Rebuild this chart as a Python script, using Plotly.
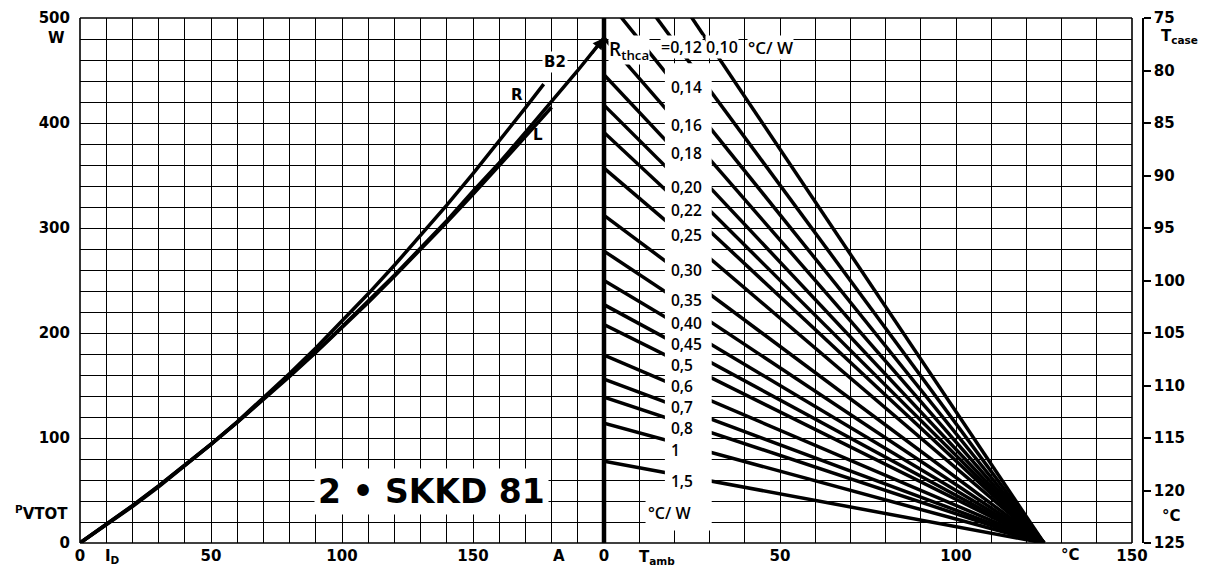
import plotly.graph_objects as go

# ---------------- data ----------------
# left panel: total power dissipation P_VTOT [W] vs. current I_D [A]
i_b2 = [0, 10, 20, 30, 40, 50, 60, 70, 80, 90, 100, 110, 120, 130, 140, 150, 160, 170, 180, 190, 200]
p_b2 = [0, 17.5, 35.6, 54.4, 74, 94.2, 115, 137, 159, 182, 206, 230, 255, 281, 307, 335, 362, 391, 420, 450, 481]
i_r = [0, 10, 20, 30, 40, 50, 60, 70, 80, 90, 100, 110, 120, 130, 140, 150, 160, 170, 177]
p_r = [0, 16.9, 34.7, 53.5, 73.2, 93.9, 115.5, 138, 161.4, 185.8, 211.1, 237.3, 264.5, 292.6, 321.7, 351.7, 382.6, 414.4, 437]
i_l = [0, 10, 20, 30, 40, 50, 60, 70, 80, 90, 100, 110, 120, 130, 140, 150, 160, 170, 180]
p_l = [0, 17.4, 35.4, 54.2, 73.8, 94, 114.8, 136.4, 158.6, 181.5, 205, 229, 254, 279.5, 305.5, 332, 359, 387, 415]

# right panel: R_thca lines, P at T_amb = 0 and common zero-power temperature
rth_labels = ["0,10", "0,12", "0,14", "0,16", "0,18", "0,20", "0,22", "0,25", "0,30",
              "0,35", "0,40", "0,45", "0,5", "0,6", "0,7", "0,8", "1", "1,5"]
p_at_t0 = [625, 568, 521, 481, 446, 417, 391, 357, 312, 278, 250, 227, 208, 179, 156, 139, 114, 78]
t_zero_power = 125

x1_ticks = [0, 50, 100, 150]
x2_ticks = [0, 50, 100, 150]
y_ticks = [0, 100, 200, 300, 400, 500]
tcase_ticks = [75, 80, 85, 90, 95, 100, 105, 110, 115, 120, 125]

# ---------------- layout helpers ----------------
# the page adds an 8 px body margin, so the figure is 8 px smaller
W, H = 1200, 562
ML, MR, MT, MB = 72, 65, 10, 27
PW = W - ML - MR
D1 = 524 / PW          # divider position (paper)
D2 = 1052 / PW         # right border of plot area (paper)

FONT = "DejaVu Sans"
LFONT = "Open Sans"
BLACK = "black"

fig = go.Figure()

for xs, ys in [(i_b2, p_b2), (i_r, p_r), (i_l, p_l)]:
    fig.add_trace(go.Scatter(x=xs, y=ys, mode="lines", xaxis="x", yaxis="y",
                             line=dict(color=BLACK, width=3.5), showlegend=False,
                             hoverinfo="skip"))

for p0 in p_at_t0:
    fig.add_trace(go.Scatter(x=[0, t_zero_power], y=[p0, 0], mode="lines", xaxis="x2", yaxis="y",
                             line=dict(color=BLACK, width=3.5), showlegend=False,
                             hoverinfo="skip"))

# dummy trace to materialise the T_case axis
fig.add_trace(go.Scatter(x=[None], y=[None], xaxis="x2", yaxis="y3", showlegend=False))

grid = dict(showgrid=True, gridcolor=BLACK, gridwidth=1.4, zeroline=False, ticks="",
            showline=False, automargin=False,
            tickfont=dict(family=FONT, size=15, color=BLACK, weight="bold"))

fig.update_layout(
    width=W, height=H, template="none",
    margin=dict(l=ML, r=MR, t=MT, b=MB),
    paper_bgcolor="white", plot_bgcolor="white", showlegend=False,
    xaxis=dict(domain=[0, D1], range=[0, 200], anchor="y", tickvals=x1_ticks,
               minor=dict(dtick=10, showgrid=True, gridcolor=BLACK, gridwidth=1.4, ticks=""),
               ticklabelstandoff=2, **grid),
    xaxis2=dict(domain=[D1, D2], range=[0, 150], anchor="y", tickvals=x2_ticks,
                minor=dict(dtick=10, showgrid=True, gridcolor=BLACK, gridwidth=1.4, ticks=""),
                ticklabelstandoff=2, **grid),
    yaxis=dict(domain=[0, 1], range=[0, 500], anchor="x", tickvals=y_ticks,
               minor=dict(dtick=20, showgrid=True, gridcolor=BLACK, gridwidth=1.4, ticks=""),
               ticklabelstandoff=9, **grid),
    yaxis3=dict(overlaying="y", anchor="free", position=1.0, side="right",
                range=[125, 75], tickvals=tcase_ticks, showgrid=False, zeroline=False,
                showline=True, linecolor=BLACK, linewidth=1.5,
                ticks="outside", ticklen=7, tickwidth=1.5, tickcolor=BLACK,
                automargin=False,
                tickfont=dict(family=FONT, size=15, color=BLACK, weight="bold")),
)

shapes = []
# white gaps for label column in the right panel
shapes.append(dict(type="rect", xref="x2", yref="y", x0=17.3, x1=30.6, y0=12, y1=457,
                   fillcolor="white", line=dict(width=0), layer="above"))
shapes.append(dict(type="rect", xref="x2", yref="y", x0=11.8, x1=17.4, y0=12, y1=50,
                   fillcolor="white", line=dict(width=0), layer="above"))
# frame
shapes.append(dict(type="line", xref="paper", yref="paper", x0=0, x1=D2, y0=1, y1=1,
                   line=dict(color=BLACK, width=1.6), layer="above"))
shapes.append(dict(type="line", xref="paper", yref="paper", x0=0, x1=D2, y0=0, y1=0,
                   line=dict(color=BLACK, width=1.6), layer="above"))
shapes.append(dict(type="line", xref="paper", yref="paper", x0=0, x1=0, y0=0, y1=1,
                   line=dict(color=BLACK, width=1.6), layer="above"))
shapes.append(dict(type="line", xref="paper", yref="paper", x0=D2, x1=D2, y0=0, y1=1,
                   line=dict(color=BLACK, width=1.6), layer="above"))
shapes.append(dict(type="line", xref="paper", yref="paper", x0=D1, x1=D1, y0=0, y1=1,
                   line=dict(color=BLACK, width=4.5), layer="above"))
fig.update_layout(shapes=shapes)

ann = []
def add(text, x, y, xref, yref, xanchor="center", yanchor="middle", size=15, weight="normal",
        bg=None, pad=1, family=FONT):
    d = dict(text=text, x=x, y=y, xref=xref, yref=yref, xanchor=xanchor, yanchor=yanchor,
             showarrow=False, font=dict(family=family, size=size, color=BLACK, weight=weight),
             borderpad=pad)
    if bg:
        d["bgcolor"] = bg
    ann.append(d)

# R_thca label column (positions)
label_p = [None, None, 434, 398, 371, 339, 317, 293, 260, 231, 210, 190, 170, 150, 130, 110, 89, 59]
for lab, py in zip(rth_labels, label_p):
    if py is not None:
        add(lab, 18.7, py, "x2", "y", xanchor="left", size=15.5, weight=600, family=LFONT, pad=0)
add("°C/ W", 12.3, 29, "x2", "y", xanchor="left", size=16, weight=600, family=LFONT, pad=0)

# top row
add("R<sub>thca</sub>", 1.0, 470, "x2", "y", xanchor="left", size=19, weight=600, family=LFONT,
    bg="white", pad=0)
add("=0,12", 16.0, 472, "x2", "y", xanchor="left", size=16, weight=600, family=LFONT,
    bg="white", pad=0)
add("0,10", 28.8, 472, "x2", "y", xanchor="left", size=16, weight=600, family=LFONT,
    bg="white", pad=0)
add("°C/ W", 40.5, 472, "x2", "y", xanchor="left", size=17, weight=600, family=LFONT,
    bg="white", pad=0)

# curve labels
add("B2", 181.3, 458, "x", "y", size=15, weight="bold", bg="white")
add("R", 166.8, 427, "x", "y", size=15, weight="bold")
add("L", 174.8, 389, "x", "y", size=15, weight="bold")

# arrow tip at the end of the B2 curve
ann.append(dict(x=i_b2[-1], y=p_b2[-1], xref="x", yref="y", ax=i_b2[-2] + 5, ay=p_b2[-2] + 15,
                axref="x", ayref="y", text="", showarrow=True, arrowhead=2, arrowsize=0.9,
                arrowwidth=2.5, arrowcolor=BLACK, standoff=0))

# title box
add("2 • SKKD 81", 134, 49.5, "x", "y", size=33, weight="bold", bg="white", pad=3)

# axis names
add("W", -0.012, 481, "paper", "y", xanchor="right", size=15, weight="bold")
add("<sup>P</sup>VTOT", -0.009, 29, "paper", "y", xanchor="right", size=15, weight="bold")
add("I<sub>D</sub>", 12.5, -0.025, "x", "paper", size=15, weight="bold")
add("A", 183, -0.025, "x", "paper", size=15, weight="bold")
add("T<sub>amb</sub>", 9.4, -0.027, "x2", "paper", xanchor="left", size=15, weight="bold")
add("°C", 132.5, -0.023, "x2", "paper", size=15, weight="bold")
add("T<sub>case</sub>", 1.015, 482, "paper", "y", xanchor="left", size=15, weight="bold")
add("°C", 1.016, 26, "paper", "y", xanchor="left", size=15, weight="bold")

fig.update_layout(annotations=ann)

fig.write_html("out.html")
